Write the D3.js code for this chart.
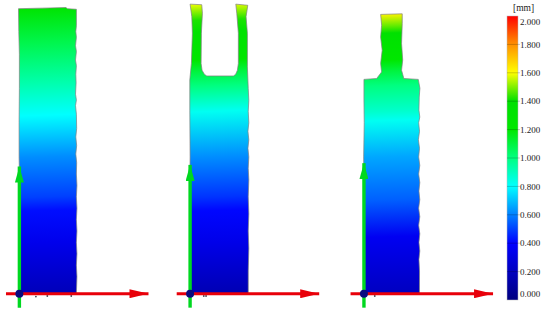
<!DOCTYPE html>
<html>
<head>
<meta charset="utf-8">
<script src="https://cdn.jsdelivr.net/npm/d3@7"></script>
<style>
  html, body { margin: 0; padding: 0; background: #fff; }
  svg { display: block; }
  text { font-family: "Liberation Serif", serif; font-size: 9px; fill: #222; }
</style>
</head>
<body>
<svg id="chart" width="550" height="313"></svg>
<script>
// colour bar
const barTicks = [0, 0.2, 0.4, 0.6, 0.8, 1.0, 1.2, 1.4, 1.6, 1.8, 2.0]
const barValues = [0, 0.4, 0.6, 0.8, 1.0, 1.2, 1.4, 1.6, 1.8, 2.0]
const barColors = ["#000080", "#0000ff", "#0080ff", "#00ffff", "#00ff80", "#00e800", "#00e000", "#ffff00", "#ff9000", "#ff0000"]

// outlines in mm from the origin of each specimen, [x, height]
const outlineFlat = [[0,0],[0.05,6],[0,12],[0.05,18],[-0.05,24],[-0.05,30],[0,36],[0,42],[-0.1,46],[-0.15,50],[4,50.1],[8.2,50.2],[8.4,50],[10,49.9],[10,47],[9.9,46],[10,45],[9.85,43.5],[10,42.5],[9.85,41],[10,40],[9.9,38.5],[9.95,37],[9.85,35],[10,34],[9.85,33],[10,31.5],[10.05,29],[9.9,27.5],[10.05,26],[9.9,24.5],[10.05,23],[10,21],[10.1,19],[10,17],[10.1,15],[10,13],[10.1,11],[10,9],[10.1,7],[10,5],[10.1,3],[10,0]]
const outlineFork = [[0,0],[0,8],[-0.05,16],[0,24],[-0.05,32.2],[-0.05,37.5],[0.23,40.4],[0.4,45.7],[0.3,48.6],[0,50.8],[2.05,50.7],[2.16,49.2],[1.98,45.7],[1.93,40.4],[2.1,39.2],[2.5,38.5],[2.93,38.2],[7.6,38.2],[8,38.5],[8.3,39.2],[8.47,40.4],[8.47,45.7],[8.19,49.2],[8.02,50.8],[10.12,50.6],[9.82,48.6],[10.05,45.7],[10.05,39.8],[10.2,36],[10.3,33.9],[10.2,32],[10.3,30],[10.15,28.5],[10.3,27],[10.15,25.5],[10.3,24],[10.2,22],[10.3,20],[10.2,17],[10.3,14],[10.2,11],[10.3,8],[10.2,4],[10.2,0]]
const outlineTab = [[0,0],[0,8],[0,16],[-0.05,24],[0.05,30],[0,34],[0,37.6],[2.23,37.75],[3.1,38.9],[2.93,40.4],[3.2,42.7],[2.93,45.05],[3.1,47.1],[2.93,49],[6.72,49.1],[6.72,47.4],[6.6,43.9],[6.8,41],[6.6,39.2],[7,37.75],[9.53,37.6],[9.82,36.05],[9.7,34.5],[9.65,32.2],[9.8,31],[9.6,30],[9.75,28.5],[9.55,27],[9.75,25.5],[9.6,24],[9.8,22.5],[9.6,21],[9.8,19.5],[9.65,18],[9.8,16.5],[9.6,15],[9.8,13.5],[9.6,12],[9.8,10.5],[9.65,9],[9.8,7.5],[9.65,6],[9.75,4],[9.74,0]]

// displacement along the height of each specimen, [height, value]
const profileFlat = [[0,0.18],[9,0.34],[14.6,0.42],[17,0.5],[24,0.62],[31.3,0.8],[37,0.93],[44,1.08],[50.2,1.3]]
const profileFork = [[0,0.16],[9,0.33],[14.6,0.41],[17,0.48],[24,0.62],[32,0.82],[36.5,1.0],[39,1.1],[41,1.25],[46,1.35],[48,1.42],[50.8,1.58]]
const profileTab = [[0,0.2],[10,0.36],[16.5,0.55],[24,0.66],[30.4,0.82],[32,0.88],[36.5,1.0],[39,1.1],[41,1.22],[45.7,1.38],[47,1.48],[49.1,1.62]]

// where each specimen sits, mm from the left of the picture
const specimenNames = ["flat", "fork", "tab"]
const specimenOrigins = [3.4, 33.35, 63.85]
const greenArrowTips = [22.3, 22.6, 22.9]

// loose scan points just under the specimens, [x, height]
const specksFlat = [[2.9,-0.5],[4.9,-0.4],[9.1,-0.4]]
const specksFork = [[2.4,-0.4],[2.8,-0.4]]
const specksTab = [[1.9,-0.4]]

const svg = d3.select("#chart")
const pxPerMm = 5.7
const originY = 293.7

const x = d3.scaleLinear().domain([0, 100]).range([0, 100 * pxPerMm])
const y = d3.scaleLinear().domain([0, 60]).range([originY, originY - 60 * pxPerMm])
const color = d3.scaleLinear().domain(barValues).range(barColors)
const barScale = d3.scaleLinear().domain([0, 2]).range([300, 16])

const defs = svg.append("defs")

const outlines = [outlineFlat, outlineFork, outlineTab]
const profiles = [profileFlat, profileFork, profileTab]
const specks = [specksFlat, specksFork, specksTab]

specimenNames.forEach((name, i) => {
  const o = specimenOrigins[i]
  // iso lines lean a little, values rise to the left
  const grad = defs.append("linearGradient")
    .attr("id", "grad-" + name)
    .attr("gradientUnits", "userSpaceOnUse")
    .attr("x1", x(o + 5)).attr("x2", x(o + 3))
    .attr("y1", y(0)).attr("y2", y(60))
  grad.selectAll("stop")
    .data(profiles[i])
    .join("stop")
    .attr("offset", d => d[0] / 60)
    .attr("stop-color", d => color(d[1]))

  const line = d3.line()
    .x(d => x(o + d[0]))
    .y(d => y(d[1]))

  svg.append("path")
    .attr("d", line(outlines[i]) + "Z")
    .attr("fill", "url(#grad-" + name + ")")
    .attr("stroke", "#808080")
    .attr("stroke-width", 0.7)

  svg.append("g").selectAll("circle")
    .data(specks[i])
    .join("circle")
    .attr("cx", d => x(o + d[0]))
    .attr("cy", d => y(d[1]))
    .attr("r", 0.9)
    .attr("fill", "#445")
})

// axes triad
function addHead(id, fill, len, wide) {
  defs.append("marker")
    .attr("id", id).attr("viewBox", "0 -5 10 10")
    .attr("refX", 10).attr("refY", 0)
    .attr("markerUnits", "userSpaceOnUse")
    .attr("markerWidth", len).attr("markerHeight", wide)
    .attr("preserveAspectRatio", "none")
    .attr("orient", "auto")
    .append("path").attr("d", "M0,-5L10,0L0,5Z").attr("fill", fill)
}
addHead("head-red", "#e8000a", 19, 9)
addHead("head-green", "#00d820", 16, 9)

specimenOrigins.forEach((o, i) => {
  svg.append("line")
    .attr("x1", x(o)).attr("x2", x(o))
    .attr("y1", y(-2.45)).attr("y2", y(greenArrowTips[i]))
    .attr("stroke", "#00d820").attr("stroke-width", 3.4)
    .attr("marker-end", "url(#head-green)")
  svg.append("line")
    .attr("x1", x(o - 2.35)).attr("x2", x(o + 22.65))
    .attr("y1", y(0)).attr("y2", y(0))
    .attr("stroke", "#e8000a").attr("stroke-width", 3)
    .attr("marker-end", "url(#head-red)")
  svg.append("circle")
    .attr("cx", x(o)).attr("cy", y(0)).attr("r", 4)
    .attr("fill", "#0a0a80")
})

// colour bar
const barGrad = defs.append("linearGradient")
  .attr("id", "grad-bar")
  .attr("x1", 0).attr("x2", 0).attr("y1", 1).attr("y2", 0)
barGrad.selectAll("stop")
  .data(barValues)
  .join("stop")
  .attr("offset", d => d / 2)
  .attr("stop-color", d => color(d))

svg.append("rect")
  .attr("x", 507).attr("width", 11)
  .attr("y", barScale(2)).attr("height", barScale(0) - barScale(2))
  .attr("fill", "url(#grad-bar)")
  .attr("stroke", "#bbb").attr("stroke-width", 0.5)

const bar = svg.append("g")
bar.selectAll("line")
  .data(barTicks.slice(1, -1))
  .join("line")
  .attr("x1", 507).attr("x2", 520)
  .attr("y1", d => barScale(d)).attr("y2", d => barScale(d))
  .attr("stroke", "#000").attr("stroke-opacity", 0.3).attr("stroke-width", 0.7)

bar.selectAll("text")
  .data(barTicks)
  .join("text")
  .attr("x", 520)
  .attr("y", d => d == 2 ? 22 : d == 0 ? 294 : barScale(d))
  .attr("dy", "0.35em")
  .text(d => d.toFixed(3))

svg.append("text").attr("x", 513).attr("y", 11).style("font-size", "9.5px").text("[mm]")
</script>
</body>
</html>
